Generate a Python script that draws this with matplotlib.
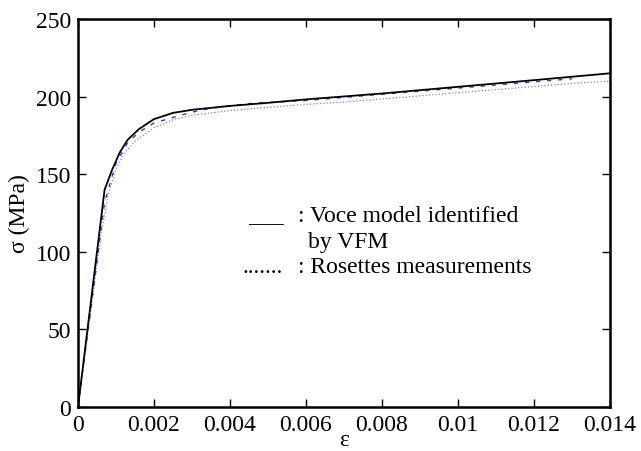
import numpy as np
import matplotlib
matplotlib.use('Agg')
import matplotlib.pyplot as plt

plt.rcParams['font.family'] = ['Liberation Serif', 'DejaVu Serif']

# Voce model identified by VFM
eps_voce = [0, 0.0007, 0.0009, 0.0011, 0.0013, 0.0016, 0.002, 0.0025, 0.003,
            0.004, 0.005, 0.006, 0.008, 0.010, 0.012, 0.014]
sig_voce = [0, 140, 153, 164, 172, 179, 185.5, 189.5, 191.5,
            194, 196, 198.2, 202, 206.3, 210.6, 215]

# Rosettes measurements (two gauges)
eps_ros1 = [0, 0.0003, 0.0006, 0.0008, 0.001, 0.0012, 0.0015, 0.002, 0.0025,
            0.003, 0.004, 0.005, 0.006, 0.007, 0.008, 0.009, 0.010, 0.011,
            0.012, 0.013, 0.014]
sig_ros1 = [0, 55, 110, 138, 153, 163, 171, 180, 185,
            188, 191, 193, 195, 196.5, 198.5, 200.5, 202.5, 204.5,
            206.5, 208.5, 210]

eps_ros2 = [0, 0.0004, 0.0007, 0.001, 0.0013, 0.0016, 0.002, 0.0025, 0.003,
            0.0035, 0.0045, 0.006, 0.008, 0.010, 0.012, 0.013]
sig_ros2 = [0, 75, 132, 157, 170, 177, 183, 186.5, 190,
            192.5, 195.5, 197.5, 201.5, 205.5, 209.5, 211.5]

fs = 17

fig = plt.figure(figsize=(6.41, 4.52), dpi=100)
ax = fig.add_axes([78 / 641, 1 - 408 / 452, 532 / 641, 388 / 452])

ax.plot(eps_ros1, sig_ros1, ':', color='#7a88c8', lw=0.9)
ax.plot(eps_ros2, sig_ros2, linestyle=(0, (3, 5)), color='#2a45a0', lw=1.0)
ax.plot(eps_voce, sig_voce, '-', color='black', lw=1.3)

ax.set_xlim(0, 0.014)
ax.set_ylim(0, 250)
ax.set_xticks(np.arange(0, 0.0141, 0.002))
ax.set_xticklabels(['0', '0.002', '0.004', '0.006', '0.008', '0.01', '0.012', '0.014'])
ax.set_yticks(np.arange(0, 251, 50))
ax.tick_params(direction='in', top=True, right=True, length=6, width=1,
               labelsize=fs)
ax.tick_params(axis='x', pad=5)
ax.tick_params(axis='y', pad=5)
for s in ax.spines.values():
    s.set_linewidth(1.8)

ax.set_xlabel('ε', fontsize=fs, labelpad=-4)
ax.set_ylabel('σ (MPa)', fontsize=fs, labelpad=4)

# legend written as text
ax.text(0.3195, 0.479, '___', transform=ax.transAxes, fontsize=fs, va='baseline')
ax.text(0.4135, 0.479, ': Voce model identified', transform=ax.transAxes,
        fontsize=fs, va='baseline')
ax.text(0.432, 0.412, 'by VFM', transform=ax.transAxes, fontsize=fs, va='baseline')
ax.text(0.310, 0.348, '.......', transform=ax.transAxes, fontsize=fs, va='baseline')
ax.text(0.4135, 0.348, ': Rosettes measurements', transform=ax.transAxes,
        fontsize=fs, va='baseline')

fig.savefig('out.png', dpi=100)
